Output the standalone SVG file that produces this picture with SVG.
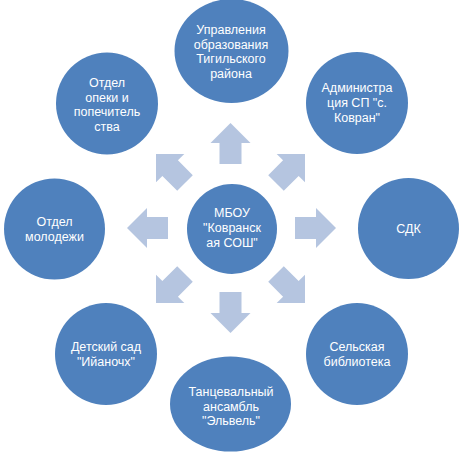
<svg xmlns="http://www.w3.org/2000/svg" width="466" height="458" viewBox="0 0 466 458">
<style>
.n{fill:#4F81BD}
.a{fill:#B5C5E0}
text{font-family:"Liberation Sans",Arial,sans-serif;font-size:12.5px;fill:#fff;text-anchor:middle;dominant-baseline:central}
</style>
<defs>
<path id="arr" d="M0,-11 H21 V-20 L41,0 L21,20 V11 H0 Z"/>
</defs>
<rect width="466" height="458" fill="#fff"/>
<g id="connectors">
<use href="#arr" class="a" transform="translate(295,228)"/>
<use href="#arr" class="a" transform="translate(168,228) rotate(180)"/>
<use href="#arr" class="a" transform="translate(230.5,164) rotate(-90)"/>
<use href="#arr" class="a" transform="translate(230.5,292) rotate(90)"/>
<use href="#arr" class="a" transform="translate(276,183) rotate(-45)"/>
<use href="#arr" class="a" transform="translate(185,183) rotate(-135)"/>
<use href="#arr" class="a" transform="translate(185,274) rotate(135)"/>
<use href="#arr" class="a" transform="translate(276,274) rotate(45)"/>
</g>
<g id="center">
<circle class="n" cx="232" cy="229" r="45"/>
<text x="232" y="213">МБОУ</text>
<text x="232" y="228">"Ковранск</text>
<text x="232" y="243">ая СОШ"</text>
</g>
<g id="top">
<ellipse class="n" cx="231.5" cy="51" rx="57" ry="52"/>
<text x="231" y="30">Управления</text>
<text x="231" y="44.5">образования</text>
<text x="231" y="59">Тигильского</text>
<text x="231" y="73.5">района</text>
</g>
<g id="topright">
<circle class="n" cx="357" cy="103" r="51"/>
<text x="357" y="88">Администра</text>
<text x="357" y="103">ция СП "с.</text>
<text x="357" y="118">Ковран"</text>
</g>
<g id="right">
<circle class="n" cx="408.5" cy="228.5" r="50.5"/>
<text x="408.5" y="228.5">СДК</text>
</g>
<g id="bottomright">
<circle class="n" cx="357" cy="354" r="51"/>
<text x="357" y="347">Сельская</text>
<text x="357" y="362">библиотека</text>
</g>
<g id="bottom">
<ellipse class="n" cx="230.5" cy="404" rx="60.5" ry="47.5"/>
<text x="231" y="392">Танцевальный</text>
<text x="231" y="406.5">ансамбль</text>
<text x="231" y="421">"Эльвель"</text>
</g>
<g id="bottomleft">
<circle class="n" cx="106" cy="354" r="51"/>
<text x="106" y="347">Детский сад</text>
<text x="106" y="362">"Ийаночх"</text>
</g>
<g id="left">
<circle class="n" cx="54.5" cy="229" r="50.5"/>
<text x="54.5" y="222">Отдел</text>
<text x="54.5" y="236.5">молодежи</text>
</g>
<g id="topleft">
<circle class="n" cx="107" cy="103.5" r="51"/>
<text x="107" y="83">Отдел</text>
<text x="107" y="97.5">опеки и</text>
<text x="107" y="112">попечитель</text>
<text x="107" y="126.5">ства</text>
</g>
</svg>
